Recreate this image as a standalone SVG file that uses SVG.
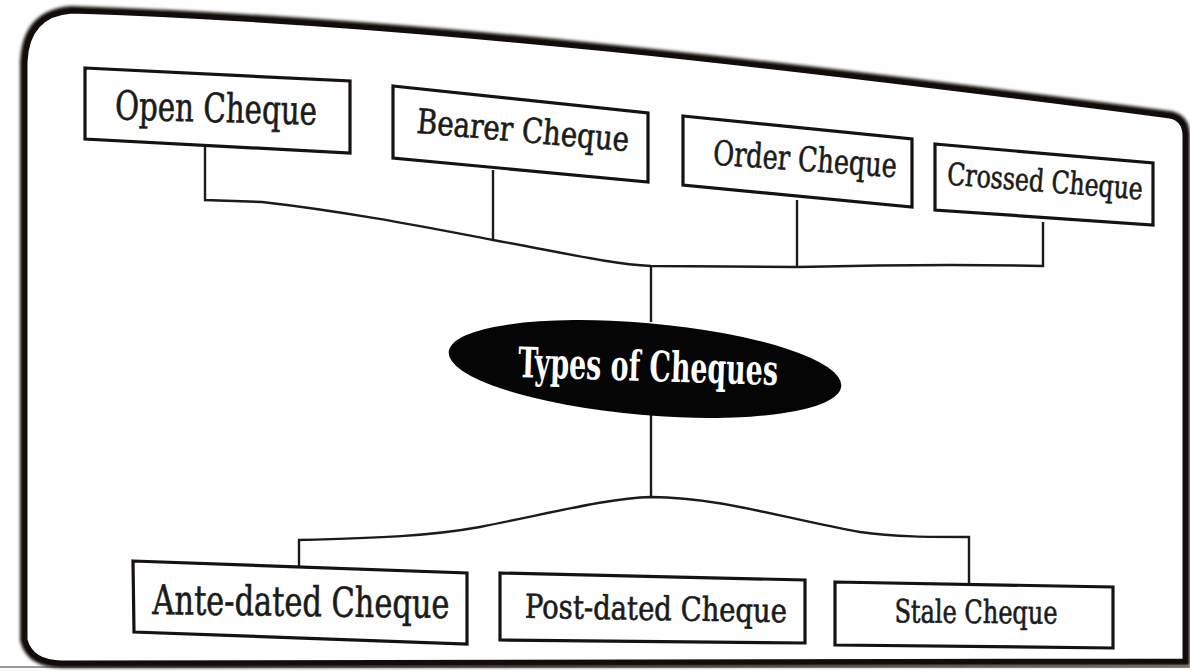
<svg xmlns="http://www.w3.org/2000/svg" width="1190" height="671" viewBox="0 0 1190 671">
<defs>
<filter id="soft" x="-5%" y="-5%" width="110%" height="110%"><feGaussianBlur stdDeviation="1.8"/></filter>
<style>
.box{fill:#fff;stroke:#161210;stroke-width:3.2;stroke-linejoin:miter}
.lbl{font-family:"DejaVu Serif Condensed","DejaVu Serif",serif;font-stretch:condensed;fill:#1b1b1b;stroke:#1b1b1b;stroke-width:0.6;text-anchor:middle}
.con{fill:none;stroke:#1b1b1b;stroke-width:2.4}
.title{font-family:"DejaVu Serif Condensed","DejaVu Serif",serif;font-stretch:condensed;font-size:42px;font-weight:bold;fill:#fff;text-anchor:middle}
</style>
</defs>
<rect width="1190" height="671" fill="#fefefe"/>
<line x1="0" y1="667" x2="1190" y2="667" stroke="#9a9a9a" stroke-width="2"/>
<g id="frame">
<path d="M25,640 L25,62 Q27,14 72,11 C 420,22 800,68 1170,116 Q 1185,119 1185,136 L1185,661 L62,663 Q 31,663 25,640 Z" fill="#fff" stroke="#1a120e" stroke-width="10" filter="url(#soft)"/>
<path d="M25,640 L25,62 Q27,14 72,11 C 420,22 800,68 1170,116 Q 1185,119 1185,136 L1185,661 L62,663 Q 31,663 25,640 Z" fill="#fff" stroke="#120c0a" stroke-width="5"/>
</g>
<g id="connectors">
<path class="con" d="M205,147 L205,200 L262,202 C 350,212 430,228 493,240 C 560,252 610,264 651,266 L 797,267 C 880,265 960,264 1043,266 L1043,222"/>
<line class="con" x1="493" y1="170" x2="493" y2="240"/>
<line class="con" x1="797" y1="200" x2="797" y2="267"/>
<line class="con" x1="651" y1="266" x2="651" y2="322"/>
<line class="con" x1="651" y1="414" x2="651" y2="497"/>
<path class="con" d="M299,566 L299,540 C 380,538 430,536 480,527 C 560,511 610,498 651,497 C 720,497 790,520 860,532 C 895,537 930,537 969,537 L969,584"/>
</g>
<g id="open-cheque">
<polygon class="box" points="85,68 350,81 350,153 85,139"/>
<text class="lbl" x="216" y="122" font-size="40" transform="rotate(1.5 216 110)" textLength="202" lengthAdjust="spacingAndGlyphs">Open Cheque</text>
</g>
<g id="bearer-cheque">
<polygon class="box" points="393,86 648,113 648,182 393,158"/>
<text class="lbl" x="523" y="142" font-size="34" transform="rotate(5 523 132)" textLength="213" lengthAdjust="spacingAndGlyphs">Bearer Cheque</text>
</g>
<g id="order-cheque">
<polygon class="box" points="683,116 912,139 912,207 683,185"/>
<text class="lbl" x="805" y="171" font-size="34" transform="rotate(4 805 161)" textLength="184" lengthAdjust="spacingAndGlyphs">Order Cheque</text>
</g>
<g id="crossed-cheque">
<polygon class="box" points="935,144 1153,163 1153,225 935,210"/>
<text class="lbl" x="1045" y="192" font-size="31" transform="rotate(4.4 1045 183)" textLength="196" lengthAdjust="spacingAndGlyphs">Crossed Cheque</text>
</g>
<g id="types-of-cheques">
<ellipse cx="645" cy="369" rx="197" ry="46" fill="#050505" transform="rotate(5 645 369)"/>
<text class="title" x="648" y="381" transform="rotate(1.8 648 368)" textLength="260" lengthAdjust="spacingAndGlyphs">Types of Cheques</text>
</g>
<g id="ante-dated-cheque">
<polygon class="box" points="133,561 467,573 467,644 134,632"/>
<text class="lbl" x="301" y="616" font-size="41" transform="rotate(0.8 301 602)" textLength="297" lengthAdjust="spacingAndGlyphs">Ante-dated Cheque</text>
</g>
<g id="post-dated-cheque">
<polygon class="box" points="500,573 805,580 805,643 500,640"/>
<text class="lbl" x="656" y="620" font-size="33" transform="rotate(1 656 609)" textLength="262" lengthAdjust="spacingAndGlyphs">Post-dated Cheque</text>
</g>
<g id="stale-cheque">
<polygon class="box" points="835,582 1113,587 1113,648 835,645"/>
<text class="lbl" x="976" y="623" font-size="32" transform="rotate(0.5 976 612)" textLength="163" lengthAdjust="spacingAndGlyphs">Stale Cheque</text>
</g>
</svg>
